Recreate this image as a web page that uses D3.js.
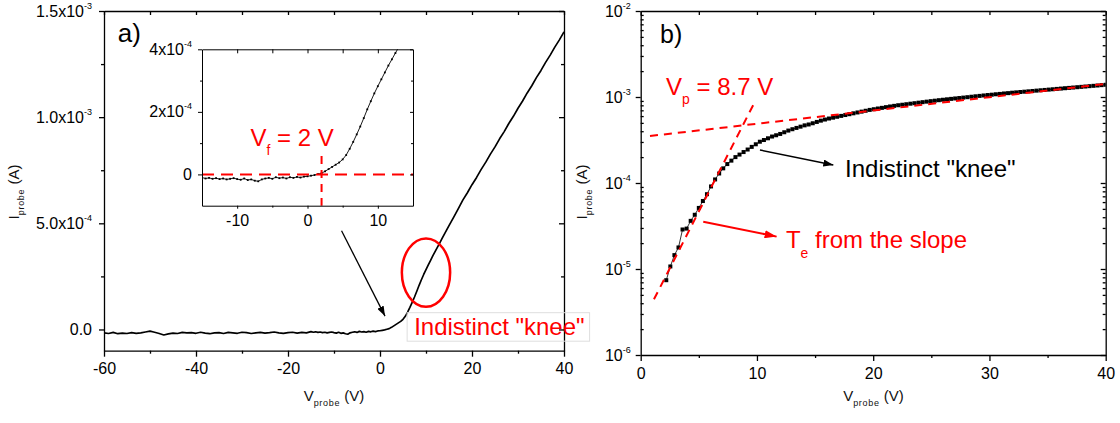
<!DOCTYPE html>
<html>
<head>
<meta charset="utf-8">
<script src="https://cdn.jsdelivr.net/npm/d3@7"></script>
<style>
  body { margin: 0; background: #fff; }
  svg { display: block; font-family: "Liberation Sans", Arial, sans-serif; }
</style>
</head>
<body>
<svg id="chart" width="1120" height="423"></svg>
<script>
// ---------- Panel a): linear I-V sweep of the probe ----------
const probeVoltageA = [
  -60, -59, -58, -57, -56, -55, -54, -53, -52, -51, -50, -49, -48, -47, -46, -45,
  -44, -43, -42, -41, -40, -39, -38, -37, -36, -35, -34, -33, -32, -31, -30, -29,
  -28, -27, -26, -25, -24, -23, -22, -21, -20, -19, -18, -17, -16, -15,
  -14.5, -14, -13.5, -13, -12.5, -12, -11.5, -11, -10.5, -10, -9.5, -9, -8.5, -8,
  -7.5, -7, -6.5, -6, -5.5, -5, -4.5, -4, -3.5, -3, -2.5, -2, -1.5, -1, -0.5, 0,
  0.5, 1, 1.5, 2, 2.5, 3, 3.5, 4, 4.5, 5, 5.5, 6, 6.5, 7, 7.5, 8, 8.5, 9, 9.5, 10,
  10.5, 11, 11.5, 12, 12.5, 13, 13.5, 14, 14.5, 15,
  16, 17, 18, 19, 20, 21, 22, 23, 24, 25, 26, 27, 28, 29, 30, 31, 32, 33, 34, 35,
  36, 37, 38, 39, 40
];
const probeCurrentA = [
  -1.6e-5, -1.9e-5, -1.4e-5, -2.0e-5, -1.7e-5, -1.9e-5, -1.5e-5, -1.8e-5, -1.6e-5, -1.2e-5,
  -0.8e-5, -1.3e-5, -1.9e-5, -2.6e-5, -2.1e-5, -1.7e-5, -1.9e-5, -1.4e-5, -1.6e-5, -1.5e-5,
  -1.8e-5, -1.3e-5, -1.7e-5, -2.0e-5, -1.6e-5, -1.5e-5, -1.9e-5, -1.4e-5, -1.6e-5, -1.8e-5,
  -1.3e-5, -1.5e-5, -1.9e-5, -1.6e-5, -1.4e-5, -1.7e-5, -1.5e-5, -1.2e-5, -1.6e-5, -1.8e-5,
  -1.5e-5, -1.3e-5, -1.7e-5, -1.4e-5, -1.6e-5, -1.0e-5,
  -1.3e-5, -1.1e-5, -1.4e-5, -1.2e-5, -1.5e-5, -1.3e-5, -1.6e-5, -1.4e-5, -1.2e-5, -1.5e-5,
  -1.7e-5, -1.3e-5, -1.8e-5, -1.6e-5, -2.0e-5, -2.2e-5, -1.6e-5, -1.3e-5, -1.1e-5, -1.4e-5,
  -0.9e-5, -1.2e-5, -1.0e-5, -1.3e-5, -0.9e-5, -1.1e-5, -0.8e-5, -1.0e-5, -0.7e-5, -0.6e-5,
  -0.4e-5, -0.2e-5, 0.1e-5, 0.4e-5, 1.0e-5, 1.7e-5, 2.4e-5, 3.1e-5, 3.8e-5, 4.8e-5,
  6.2e-5, 8.2e-5, 10.4e-5, 12.8e-5, 15.3e-5, 18.0e-5, 20.8e-5, 23.4e-5, 25.9e-5, 28.2e-5,
  30.4e-5, 32.6e-5, 34.8e-5, 36.8e-5, 38.8e-5, 40.8e-5, 42.9e-5, 44.9e-5, 46.9e-5, 48.9e-5,
  52.8e-5, 56.8e-5, 60.9e-5, 64.4e-5, 68.2e-5, 71.6e-5, 75.4e-5, 78.8e-5, 82.6e-5, 86.0e-5,
  89.8e-5, 93.2e-5, 97.0e-5, 100.4e-5, 104.2e-5, 107.6e-5, 111.4e-5, 114.8e-5, 118.6e-5, 122.0e-5,
  125.8e-5, 129.2e-5, 133.0e-5, 136.4e-5, 140.2e-5
];

const xTicksA = [-60, -40, -20, 0, 20, 40];
const xMinorA = [-50, -30, -10, 10, 30];
const yTicksA = [0, 5e-4, 1e-3, 1.5e-3];
const yTickLabelsA = [["0.0", ""], ["5.0x10", "-4"], ["1.0x10", "-3"], ["1.5x10", "-3"]];
const yMinorA = [2.5e-4, 7.5e-4, 1.25e-3];

const xTicksInset = [-10, 0, 10];
const xMinorInset = [-5, 5];
const yTicksInset = [0, 2e-4, 4e-4];
const yTickLabelsInset = [["0", ""], ["2x10", "-4"], ["4x10", "-4"]];
const yMinorInset = [1e-4, 3e-4];

const floatingPotential = 2;     // V_f, where the probe current crosses zero

// ---------- Panel b): semilog electron current ----------
const probeVoltageB = [
  2.20, 2.55, 2.90, 3.25, 3.60, 3.95, 4.30, 4.65, 5.00, 5.35, 5.70, 6.05, 6.40, 6.75, 7.10,
  7.45, 7.80, 8.15, 8.50, 8.85, 9.20, 9.55, 9.90, 10.25, 10.60, 10.95, 11.30, 11.65, 12.00,
  12.35, 12.70, 13.05, 13.40, 13.75, 14.10, 14.45, 14.80, 15.15, 15.50, 15.85, 16.20, 16.55,
  16.90, 17.25, 17.60, 17.95, 18.30, 18.65, 19.00, 19.35, 19.70, 20.05, 20.40, 20.75, 21.10,
  21.45, 21.80, 22.15, 22.50, 22.85, 23.20, 23.55, 23.90, 24.25, 24.60, 24.95, 25.30, 25.65,
  26.00, 26.35, 26.70, 27.05, 27.40, 27.75, 28.10, 28.45, 28.80, 29.15, 29.50, 29.85, 30.20,
  30.55, 30.90, 31.25, 31.60, 31.95, 32.30, 32.65, 33.00, 33.35, 33.70, 34.05, 34.40, 34.75,
  35.10, 35.45, 35.80, 36.15, 36.50, 36.85, 37.20, 37.55, 37.90, 38.25, 38.60, 38.95, 39.30,
  39.65, 40.00
];
const probeCurrentB = [
  7.41e-6, 1.07e-5, 1.45e-5, 1.78e-5, 2.88e-5, 2.95e-5, 3.63e-5, 4.27e-5, 5.13e-5, 6.17e-5,
  7.41e-5, 9.12e-5, 1.10e-4, 1.29e-4, 1.48e-4, 1.66e-4, 1.82e-4, 2.00e-4, 2.14e-4, 2.29e-4,
  2.45e-4, 2.63e-4, 2.82e-4, 3.02e-4, 3.16e-4, 3.31e-4, 3.47e-4, 3.59e-4, 3.72e-4, 3.89e-4,
  4.07e-4, 4.22e-4, 4.37e-4, 4.52e-4, 4.68e-4, 4.79e-4, 4.95e-4, 5.13e-4, 5.31e-4, 5.47e-4,
  5.62e-4, 5.75e-4, 5.89e-4, 6.03e-4, 6.17e-4, 6.31e-4, 6.46e-4, 6.61e-4, 6.76e-4, 6.92e-4,
  7.08e-4, 7.21e-4, 7.35e-4, 7.48e-4, 7.62e-4,
  7.76e-4, 7.89e-4, 8.02e-4, 8.13e-4, 8.24e-4, 8.36e-4, 8.47e-4, 8.59e-4, 8.71e-4, 8.83e-4,
  8.95e-4, 9.06e-4, 9.18e-4, 9.29e-4, 9.40e-4, 9.51e-4, 9.62e-4, 9.73e-4, 9.84e-4, 9.95e-4,
  1.007e-3, 1.019e-3, 1.030e-3, 1.042e-3, 1.054e-3, 1.064e-3, 1.076e-3, 1.086e-3, 1.099e-3, 1.109e-3,
  1.122e-3, 1.132e-3, 1.143e-3, 1.153e-3, 1.164e-3, 1.175e-3, 1.186e-3, 1.197e-3, 1.208e-3, 1.219e-3,
  1.230e-3, 1.242e-3, 1.253e-3, 1.265e-3, 1.276e-3, 1.288e-3, 1.300e-3, 1.312e-3, 1.324e-3, 1.337e-3,
  1.349e-3, 1.361e-3, 1.374e-3, 1.387e-3
];

const xTicksB = [0, 10, 20, 30, 40];
const xMinorB = [5, 15, 25, 35];
const yTicksB = [1e-6, 1e-5, 1e-4, 1e-3, 1e-2];
const yTickLabelsB = [["10", "-6"], ["10", "-5"], ["10", "-4"], ["10", "-3"], ["10", "-2"]];

// straight-line fits on the semilog plot: retardation region and saturation region
const steepFitB = [[1.14, 4.44e-6], [9.68, 8.07e-4]];
const flatFitB = [[0.8, 3.52e-4], [40, 1.42e-3]];

// ---------- drawing ----------
const RED = "#ff0000";
const FONT = '"Liberation Sans", Arial, sans-serif';
const svg = d3.select("#chart");
const defs = svg.append("defs");

function arrowMarker(id, color, len, wid) {
  defs.append("marker").attr("id", id)
    .attr("markerUnits", "userSpaceOnUse")
    .attr("markerWidth", len).attr("markerHeight", wid)
    .attr("refX", len).attr("refY", wid / 2).attr("orient", "auto")
    .append("path").attr("d", `M0,0L${len},${wid / 2}L0,${wid}Z`).attr("fill", color);
}
arrowMarker("headBlack", "#000", 10, 7);
arrowMarker("headRed", RED, 12, 8);

function clipRect(id, x, y) {
  const [x0, x1] = x.range(), [y0, y1] = y.range();
  defs.append("clipPath").attr("id", id).append("rect")
    .attr("x", x0).attr("y", y1).attr("width", x1 - x0).attr("height", y0 - y1);
}

function supLabels(axisG, ticks, labels, supSize, raise) {
  axisG.selectAll(".tick text").each(function (d) {
    const i = ticks.findIndex(t => Math.abs(t - d) < 1e-12);
    const [m, e] = labels[i];
    const t = d3.select(this).text(null);
    t.append("tspan").text(m);
    if (e) t.append("tspan").attr("font-size", supSize).attr("dy", -raise).text(e);
  });
}

function styleAxis(a, sw) {
  a.attr("font-family", FONT).attr("font-size", 16);
  a.selectAll("line, path").attr("stroke", "#000").attr("stroke-width", sw);
  a.selectAll("text").attr("fill", "#000");
}

function frameAxes(g, x, y, c) {
  const [x0, x1] = x.range(), [y0, y1] = y.range();
  const bottom = g.append("g").attr("transform", `translate(0,${y0})`)
    .call(d3.axisBottom(x).tickValues(c.xTicks).tickSize(c.bMajor).tickSizeOuter(0)
      .tickPadding(c.xPad).tickFormat(d => String(d)));
  styleAxis(bottom, c.sw);
  const bMin = g.append("g").attr("transform", `translate(0,${y0})`)
    .call(d3.axisBottom(x).tickValues(c.xMinor).tickSize(c.bMinor).tickFormat(""));
  bMin.select(".domain").remove(); styleAxis(bMin, c.sw);

  const top = g.append("g").attr("transform", `translate(0,${y1})`)
    .call(d3.axisTop(x).tickValues(c.xTicks.concat(c.xMinor)).tickSize(-c.tMajor).tickSizeOuter(0).tickFormat(""));
  styleAxis(top, c.sw);

  const left = g.append("g").attr("transform", `translate(${x0},0)`)
    .call(d3.axisLeft(y).tickValues(c.yTicks).tickSize(c.lMajor).tickSizeOuter(0).tickPadding(c.yPad));
  styleAxis(left, c.sw);
  supLabels(left, c.yTicks, c.yLabels, c.supSize, c.raise);
  const lMin = g.append("g").attr("transform", `translate(${x0},0)`)
    .call(d3.axisLeft(y).tickValues(c.yMinor).tickSize(c.lMinor).tickFormat(""));
  lMin.select(".domain").remove(); styleAxis(lMin, c.sw);

  const right = g.append("g").attr("transform", `translate(${x1},0)`)
    .call(d3.axisRight(y).tickValues(c.yTicks).tickSize(-c.rMajor).tickSizeOuter(0).tickFormat(""));
  styleAxis(right, c.sw);
  const rMin = g.append("g").attr("transform", `translate(${x1},0)`)
    .call(d3.axisRight(y).tickValues(c.yMinor).tickSize(-c.rMinor).tickFormat(""));
  rMin.select(".domain").remove(); styleAxis(rMin, c.sw);
}

function axisTitle(g, tx, ty, rotate, main, sub, tail) {
  const t = g.append("text")
    .attr("transform", `translate(${tx},${ty})` + (rotate ? " rotate(-90)" : ""))
    .attr("text-anchor", "middle").attr("font-size", 15).attr("fill", "#111");
  t.append("tspan").text(main);
  t.append("tspan").attr("font-size", 9).attr("dy", 5).attr("letter-spacing", 0.7).text(sub);
  t.append("tspan").attr("dy", -5).text("\u00a0" + tail);
}

function subText(g, x, y, size, color, main, sub, tail, drop) {
  const t = g.append("text").attr("x", x).attr("y", y)
    .attr("font-size", size).attr("fill", color).attr("style", "white-space:pre");
  t.append("tspan").text(main);
  if (sub) {
    t.append("tspan").attr("font-size", size * 0.58).attr("dy", drop).text(sub);
    t.append("tspan").attr("dy", -drop).text(tail);
  }
  return t;
}

const pts = (xs, ys) => xs.map((v, i) => [v, ys[i]]);
const dataA = pts(probeVoltageA, probeCurrentA);
const dataB = pts(probeVoltageB, probeCurrentB);

// ===== Panel a =====
const xA = d3.scaleLinear().domain([-60, 40]).range([104, 564]);
const yA = d3.scaleLinear().domain([-1e-4, 1.5e-3]).range([350.7, 11]);
const gA = svg.append("g");
clipRect("clipA", xA, yA);

gA.append("path").datum(dataA)
  .attr("clip-path", "url(#clipA)")
  .attr("fill", "none").attr("stroke", "#000").attr("stroke-width", 1.7)
  .attr("stroke-linejoin", "round")
  .attr("d", d3.line().x(d => xA(d[0])).y(d => yA(d[1])));

frameAxes(gA, xA, yA, {
  xTicks: xTicksA, xMinor: xMinorA, yTicks: yTicksA, yLabels: yTickLabelsA, yMinor: yMinorA,
  bMajor: 6, bMinor: 3, tMajor: 4, lMajor: 5, lMinor: 3, rMajor: 5, rMinor: 3,
  xPad: 6, yPad: 7, sw: 1.3, supSize: 9, raise: 8
});
axisTitle(gA, 334, 401, false, "V", "probe", "(V)");
axisTitle(gA, 19, 192, true, "I", "probe", "(A)");

gA.append("text").attr("x", xA(-57.0)).attr("y", yA(1.352e-3))
  .attr("font-size", 26).attr("fill", "#000").text("a)");

// inset: zoom around the floating potential
const xI = d3.scaleLinear().domain([-15, 15]).range([202, 413]);
const yI = d3.scaleLinear().domain([-1e-4, 4e-4]).range([205.7, 49.3]);
const gI = gA.append("g");
clipRect("clipI", xI, yI);
gI.append("rect").attr("x", 202).attr("y", 49.3).attr("width", 211).attr("height", 156.4).attr("fill", "#fff");

const insetData = dataA.filter(d => d[0] >= -15 && d[0] <= 15);
gI.append("path").datum(insetData)
  .attr("clip-path", "url(#clipI)")
  .attr("fill", "none").attr("stroke", "#000").attr("stroke-width", 0.9)
  .attr("d", d3.line().x(d => xI(d[0])).y(d => yI(d[1])));
gI.append("g").attr("clip-path", "url(#clipI)")
  .selectAll("rect").data(insetData).join("rect")
  .attr("x", d => xI(d[0]) - 0.9).attr("y", d => yI(d[1]) - 0.9)
  .attr("width", 1.8).attr("height", 1.8).attr("fill", "#000");

// zero-current line and the floating-potential marker
gI.append("line")
  .attr("x1", xI(-15)).attr("x2", xI(15)).attr("y1", yI(0)).attr("y2", yI(0))
  .attr("stroke", RED).attr("stroke-width", 2).attr("stroke-dasharray", "12,7");
gI.append("line")
  .attr("x1", xI(floatingPotential)).attr("x2", xI(floatingPotential))
  .attr("y1", yI(5.9e-5)).attr("y2", yI(-1e-4))
  .attr("stroke", RED).attr("stroke-width", 2).attr("stroke-dasharray", "8,6");

frameAxes(gI, xI, yI, {
  xTicks: xTicksInset, xMinor: xMinorInset, yTicks: yTicksInset, yLabels: yTickLabelsInset, yMinor: yMinorInset,
  bMajor: 3, bMinor: 2, tMajor: 4, lMajor: 4, lMinor: 2, rMajor: 3, rMinor: 2,
  xPad: 6, yPad: 6, sw: 1, supSize: 9, raise: 8
});

subText(gI, xI(-8.1), yI(9.0e-5), 24, RED, "V", "f", " = 2 V", 9);

// knee annotation
gA.append("ellipse")
  .attr("cx", xA(10.0)).attr("cy", yA(2.68e-4))
  .attr("rx", xA(15.25) - xA(10.0)).attr("ry", yA(1.07e-4) - yA(2.68e-4))
  .attr("fill", "none").attr("stroke", RED).attr("stroke-width", 2.5);
gA.append("line")
  .attr("x1", xA(-8.36)).attr("y1", yA(4.65e-4)).attr("x2", xA(1.09)).attr("y2", yA(6.3e-5))
  .attr("stroke", "#000").attr("stroke-width", 1.3).attr("marker-end", "url(#headBlack)");
const kneeBox = gA.append("rect");
const kneeA = gA.append("text").attr("x", xA(7.42)).attr("y", yA(-2.7e-5))
  .attr("font-size", 24).attr("fill", RED).text('Indistinct "knee"');
const kb = kneeA.node().getBBox();
kneeBox
  .attr("x", kb.x - 7).attr("y", kb.y - 0.5).attr("width", kb.width + 12).attr("height", kb.height + 1.5)
  .attr("fill", "none").attr("stroke", "#dedede").attr("stroke-width", 1);

// ===== Panel b =====
const xB = d3.scaleLinear().domain([0, 40]).range([640.7, 1105.7]);
const yB = d3.scaleLog().domain([1e-6, 1e-2]).range([355, 11]);
const gB = svg.append("g");
clipRect("clipB", xB, yB);
const yMinorB = yB.ticks().filter(t => !yTicksB.some(m => Math.abs(m - t) / t < 1e-9));

frameAxes(gB, xB, yB, {
  xTicks: xTicksB, xMinor: xMinorB, yTicks: yTicksB, yLabels: yTickLabelsB, yMinor: yMinorB,
  bMajor: 6, bMinor: 3, tMajor: 4, lMajor: 5, lMinor: -3, rMajor: 5, rMinor: 3,
  xPad: 7, yPad: 5, sw: 1.3, supSize: 9, raise: 8
});
axisTitle(gB, 873.5, 401, false, "V", "probe", "(V)");
axisTitle(gB, 587, 192, true, "I", "probe", "(A)");

gB.append("text").attr("x", xB(1.66)).attr("y", yB(4.28e-3))
  .attr("font-size", 25).attr("fill", "#000").text("b)");

const gBData = gB.append("g").attr("clip-path", "url(#clipB)");
gBData.append("path").datum(dataB)
  .attr("fill", "none").attr("stroke", "#000").attr("stroke-width", 0.8)
  .attr("d", d3.line().x(d => xB(d[0])).y(d => yB(d[1])));
gBData.selectAll("rect.pt").data(dataB).join("rect").attr("class", "pt")
  .attr("x", d => xB(d[0]) - 2).attr("y", d => yB(d[1]) - 2)
  .attr("width", 4).attr("height", 4).attr("fill", "#000");

const fitLine = d3.line().x(d => xB(d[0])).y(d => yB(d[1]));
[steepFitB, flatFitB].forEach(f => {
  gBData.append("path").datum(f)
    .attr("fill", "none").attr("stroke", RED).attr("stroke-width", 2)
    .attr("stroke-dasharray", "8,6").attr("d", fitLine);
});

subText(gB, xB(2.18), yB(1.055e-3), 24, RED, "V", "p", " = 8.7 V", 9);

gB.append("line")
  .attr("x1", xB(10.26)).attr("y1", yB(2.42e-4)).attr("x2", xB(16.57)).attr("y2", yB(1.62e-4))
  .attr("stroke", "#000").attr("stroke-width", 1.5).attr("marker-end", "url(#headBlack)");
gB.append("text").attr("x", xB(17.58)).attr("y", yB(1.17e-4))
  .attr("font-size", 24).attr("fill", "#000").text('Indistinct "knee"');

gB.append("line")
  .attr("x1", xB(5.38)).attr("y1", yB(3.55e-5)).attr("x2", xB(11.69)).attr("y2", yB(2.38e-5))
  .attr("stroke", RED).attr("stroke-width", 2).attr("marker-end", "url(#headRed)");
subText(gB, xB(12.49), yB(1.75e-5), 24, RED, "T", "e", " from the slope", 10);
</script>
</body>
</html>
